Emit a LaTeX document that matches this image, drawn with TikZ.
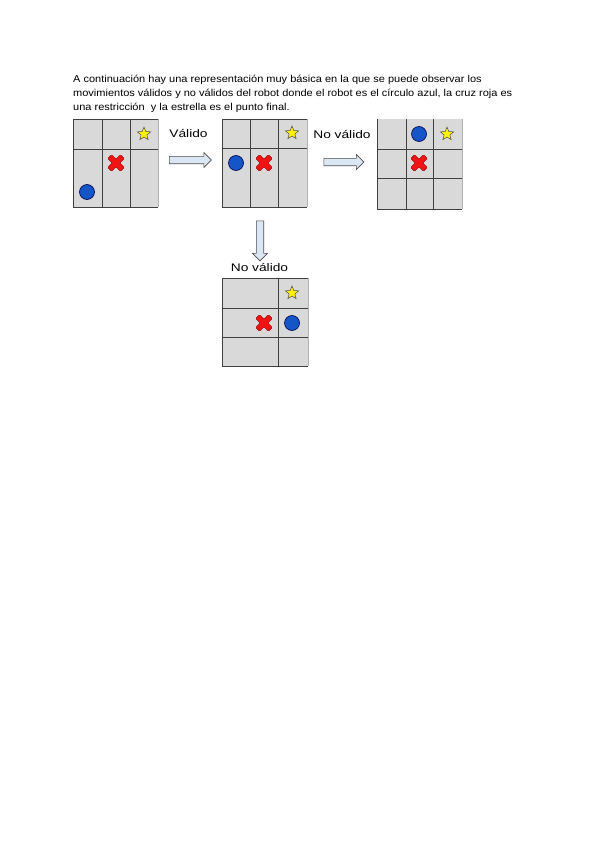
\documentclass[tikz,border=0pt]{standalone}
\usepackage{fontspec}
\setmainfont{Liberation Sans}
\usepackage{xcolor}
\usepackage{tikz}
\usetikzlibrary{shapes.geometric,shapes.arrows,positioning}

\definecolor{cellgray}{RGB}{217,217,217}
\definecolor{robotblue}{RGB}{20,85,200}
\definecolor{arrowblue}{RGB}{218,230,244}
\definecolor{crossred}{RGB}{240,20,20}

\begin{document}
\begin{tikzpicture}[x=1pt, y=-1pt,
    txt/.style={anchor=base west, inner sep=0pt, font=\fontsize{10}{12}\selectfont, xscale=1.1},
    lbl/.style={anchor=base, inner sep=0pt, font=\fontsize{11}{13}\selectfont, xscale=1.25},
    cell/.style={fill=cellgray},
    gridline/.style={draw=black!75, line width=0.8pt},
    softline/.style={draw=black!30, line width=0.6pt},
    goal/.style={star, star points=5, star point ratio=2.3, minimum size=14pt, inner sep=0pt, fill=yellow, draw=black!70, line width=0.5pt},
    robot/.style={circle, minimum size=15pt, inner sep=0pt, fill=robotblue, draw=blue!30!black, line width=0.6pt},
    blockarrow/.style={single arrow, single arrow head extend=3.8pt, inner sep=3.4pt, minimum height=42pt, fill=arrowblue, draw=black!70, line width=0.6pt},
    redcross/.pic={
        \filldraw[fill=crossred, draw=red!60!black, line width=0.4pt, rounded corners=1pt, rotate=45]
            (-2.8,9) -- (2.8,9) -- (2.8,2.8) -- (9,2.8) -- (9,-2.8) -- (2.8,-2.8) -- (2.8,-9)
            -- (-2.8,-9) -- (-2.8,-2.8) -- (-9,-2.8) -- (-9,2.8) -- (-2.8,2.8) -- cycle;
    }
]
    \useasboundingbox (0,0) rectangle (600,848);

    % Intro text
    \node[txt] (line1) at (73,82.5) {A continuación hay una representación muy básica en la que se puede observar los};
    \node[txt] (line2) at (73,97) {movimientos válidos y no válidos del robot donde el robot es el círculo azul, la cruz roja es};
    \node[txt] (line3) at (73,111) {una restricción \ y la estrella es el punto final.};

    % Grid 1 (start)
    \fill[cell] (73,119) rectangle (158,207);
    \draw[gridline] (73,119) -- (158,119);
    \draw[gridline] (73,119) -- (73,207) -- (158,207);
    \draw[softline] (158,119) -- (158,207);
    \draw[gridline] (102,119) -- (102,207);
    \draw[gridline] (130,119) -- (130,207);
    \draw[gridline] (73,149) -- (158,149);
    \node[goal] (star1) at (144,134) {};
    \pic at (116,163) {redcross};
    \node[robot] (robot1) at (87,192) {};

    % Grid 2 (valid move)
    \fill[cell] (222,119) rectangle (307,207);
    \draw[gridline] (222,119) -- (307,119);
    \draw[gridline] (222,119) -- (222,207) -- (307,207);
    \draw[softline] (307,119) -- (307,207);
    \draw[gridline] (250,119) -- (250,207);
    \draw[gridline] (278,119) -- (278,207);
    \draw[gridline] (222,148) -- (307,148);
    \node[goal] (star2) at (292,133) {};
    \node[robot] (robot2) at (236,163) {};
    \pic at (264,163) {redcross};

    % Grid 3 (invalid move, right)
    \fill[cell] (377,119) rectangle (462,209);
    \draw[gridline] (377,119) -- (377,209) -- (462,209);
    \draw[softline] (462,119) -- (462,209);
    \draw[gridline] (406,119) -- (406,209);
    \draw[gridline] (433,119) -- (433,209);
    \draw[gridline] (377,149) -- (462,149);
    \draw[gridline] (377,178) -- (462,178);
    \node[robot] (robot3) at (419,134) {};
    \node[goal] (star3) at (447,134) {};
    \pic at (419,163) {redcross};

    % Grid 4 (invalid move, below)
    \fill[cell] (222,278) rectangle (308,366);
    \draw[gridline] (222,278) -- (308,278);
    \draw[gridline] (222,278) -- (222,366) -- (308,366);
    \draw[softline] (308,278) -- (308,366);
    \draw[gridline] (278,278) -- (278,366);
    \draw[gridline] (222,308) -- (308,308);
    \draw[gridline] (222,337) -- (308,337);
    \node[goal] (star4) at (292,293) {};
    \pic at (264,323) {redcross};
    \node[robot] (robot4) at (292,323) {};

    % Block arrows and their labels
    \node[blockarrow] (arr1) at (188.5,160) {};
    \node[blockarrow, minimum height=40pt] (arr2) at (342,162) {};
    \node[blockarrow, minimum height=40pt, shape border rotate=270] (arr3) at (260,239) {};
    \node[lbl] (valido) at (188.5,137.7) {Válido};
    \node[lbl] (novalido1) at (342,138.3) {No válido};
    \node[lbl] (novalido2) at (259.5,271.7) {No válido};

\end{tikzpicture}
\end{document}
